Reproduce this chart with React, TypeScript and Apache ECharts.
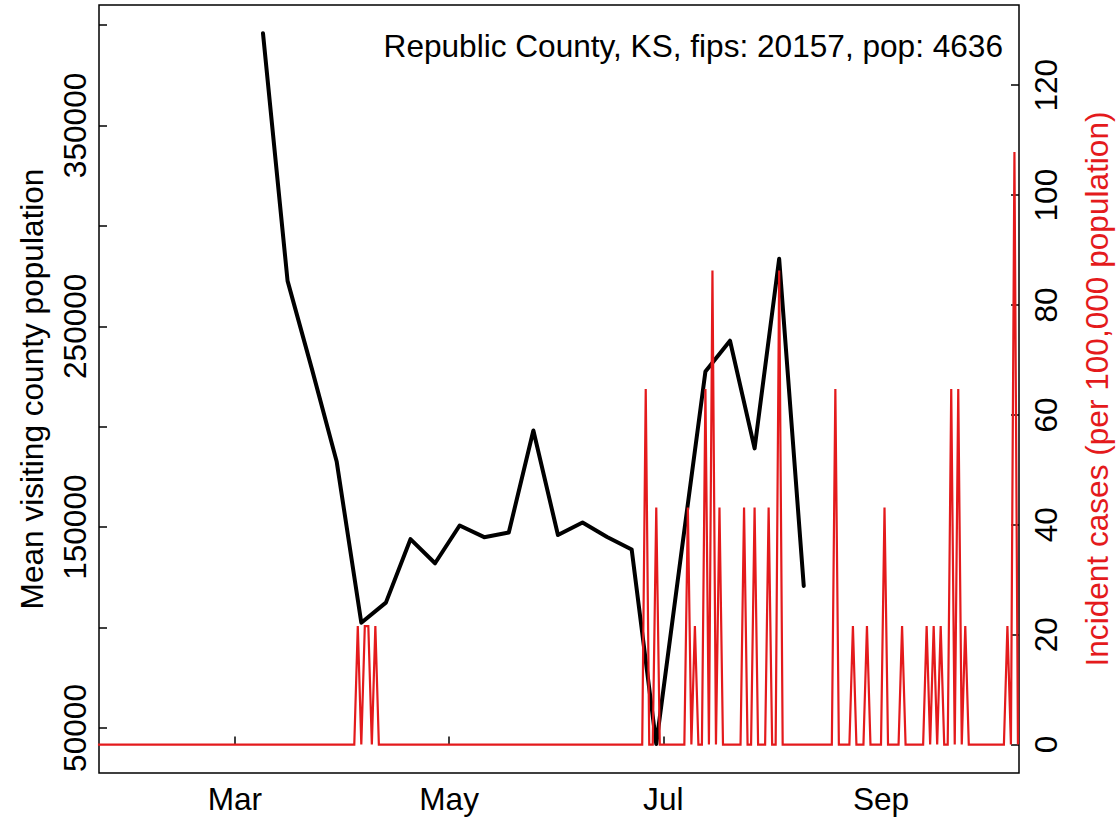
import React, { useEffect, useRef } from "react";
import * as echarts from "echarts";

const FONT = '"Liberation Sans", Arial, Helvetica, sans-serif';
const FS = 31.6;

// Weekly mean visiting county population (black line)
const visitDates = [
  "2020-03-09", "2020-03-16", "2020-03-23", "2020-03-30", "2020-04-06", "2020-04-13",
  "2020-04-20", "2020-04-27", "2020-05-04", "2020-05-11", "2020-05-18", "2020-05-25",
  "2020-06-01", "2020-06-08", "2020-06-15", "2020-06-22", "2020-06-29", "2020-07-06",
  "2020-07-13", "2020-07-20", "2020-07-27", "2020-08-03", "2020-08-10",
];
const visitValues = [
  395900, 272600, 228300, 182500, 102400, 112400,
  144000, 132000, 150800, 145000, 147300, 198100,
  146100, 152300, 145100, 138900, 42000, 135200,
  227500, 242800, 189200, 283600, 120700,
];

// Daily incident cases per 100,000 (red line); all other days are 0
const caseRange = ["2020-01-22", "2020-10-10"];
const caseDates = [
  "2020-04-05", "2020-04-07", "2020-04-08", "2020-04-10",
  "2020-06-26", "2020-06-29", "2020-07-08", "2020-07-10", "2020-07-13", "2020-07-15",
  "2020-07-17", "2020-07-24", "2020-07-27", "2020-07-31", "2020-08-03",
  "2020-08-19", "2020-08-24", "2020-08-28", "2020-09-02", "2020-09-07", "2020-09-14",
  "2020-09-16", "2020-09-18", "2020-09-21", "2020-09-23", "2020-09-25", "2020-10-07",
  "2020-10-09",
];
const caseValues = [
  21.57, 21.57, 21.57, 21.57,
  64.71, 43.14, 43.14, 21.57, 64.71, 86.28,
  43.14, 43.14, 43.14, 43.14, 86.28,
  64.71, 21.57, 21.57, 43.14, 21.57, 21.57,
  21.57, 21.57, 64.71, 64.71, 21.57, 21.57,
  107.85,
];

const monthTickDates = ["2020-03-01", "2020-05-01", "2020-07-01", "2020-09-01"];
const monthTickLabels = ["Mar", "May", "Jul", "Sep"];
const leftTicks = [50000, 100000, 150000, 200000, 250000, 300000, 350000, 400000];
const leftLabels = [50000, 150000, 250000, 350000];
const rightTicks = [0, 20, 40, 60, 80, 100, 120];

const titleText = "Republic County, KS, fips: 20157, pop: 4636";
const leftName = "Mean visiting county population";
const rightName = "Incident cases (per 100,000 population)";

const BASE = Date.parse("2020-01-01");
const dayOf = (s: string) => (Date.parse(s) - BASE) / 86400000;

export default function App() {
  const ref = useRef<HTMLDivElement>(null);
  useEffect(() => {
    if (!ref.current) return;
    const chart = echarts.init(ref.current, null, { renderer: "svg" });

    const blackData = visitDates.map((d, i) => [dayOf(d), visitValues[i]]);
    const caseMap = new Map<number, number>();
    caseDates.forEach((d, i) => caseMap.set(dayOf(d), caseValues[i]));
    const start = dayOf(caseRange[0]);
    const end = dayOf(caseRange[1]);
    const redData: number[][] = [];
    for (let d = start; d <= end; d++) redData.push([d, caseMap.get(d) ?? 0]);

    const monthDays = monthTickDates.map(dayOf);
    const labelOf = new Map<number, string>();
    monthDays.forEach((d, i) => labelOf.set(d, monthTickLabels[i]));

    const textStyle = { color: "#000", fontFamily: FONT, fontSize: FS, lineHeight: FS };

    chart.setOption({
      animation: false,
      backgroundColor: "#fff",
      grid: {
        left: 99, right: 100, top: 5, bottom: 44,
        show: true, borderColor: "#000", borderWidth: 1.5, backgroundColor: "transparent",
      },
      xAxis: {
        type: "value",
        min: 21.3,
        max: 283.3,
        axisLine: { show: false },
        splitLine: { show: false },
        axisTick: {
          show: true, inside: true, length: 8, customValues: monthDays,
          lineStyle: { color: "#000", width: 1.5 },
        },
        axisLabel: {
          ...textStyle, margin: 10, customValues: monthDays,
          formatter: (v: number) => labelOf.get(Math.round(v)) ?? "",
        },
      },
      yAxis: [
        {
          type: "value",
          position: "left",
          min: 27580,
          max: 409965,
          axisLine: { show: false },
          splitLine: { show: false },
          axisTick: {
            show: true, inside: true, length: 8, customValues: leftTicks,
            lineStyle: { color: "#000", width: 1.5 },
          },
          axisLabel: {
            ...textStyle, rotate: 90, margin: 8, customValues: leftLabels,
            formatter: (v: number) => String(v),
          },
        },
        {
          type: "value",
          position: "right",
          min: -5.177,
          max: 134.6,
          axisLine: { show: false },
          splitLine: { show: false },
          axisTick: {
            show: true, inside: true, length: 8, customValues: rightTicks,
            lineStyle: { color: "#000", width: 1.5 },
          },
          axisLabel: {
            ...textStyle, rotate: 90, margin: 11, customValues: rightTicks,
            formatter: (v: number) => String(v),
          },
        },
      ],
      series: [
        {
          type: "line",
          yAxisIndex: 0,
          data: blackData,
          showSymbol: false,
          symbol: "none",
          lineStyle: { color: "#000", width: 4, join: "round", cap: "round" },
          z: 2,
        },
        {
          type: "line",
          yAxisIndex: 1,
          data: redData,
          showSymbol: false,
          symbol: "none",
          lineStyle: { color: "#E41A1C", width: 2.2, join: "miter" },
          z: 3,
        },
      ],
      graphic: [
        {
          type: "text", x: 1003, y: 46, z: 10,
          style: { text: titleText, font: `${FS}px ${FONT}`, fill: "#000", textAlign: "right", textVerticalAlign: "middle" },
        },
        {
          type: "text", x: 32, y: 389, rotation: Math.PI / 2,
          style: { text: leftName, font: `${FS}px ${FONT}`, fill: "#000", textAlign: "center", textVerticalAlign: "middle" },
        },
        {
          type: "text", x: 1097, y: 389, rotation: Math.PI / 2,
          style: { text: rightName, font: `${FS}px ${FONT}`, fill: "#E41A1C", textAlign: "center", textVerticalAlign: "middle" },
        },
      ],
    });
    return () => chart.dispose();
  }, []);
  return (
    <div
      ref={ref}
      style={{ position: "absolute", left: 0, top: 0, width: 1119, height: 817, background: "#fff" }}
    />
  );
}
